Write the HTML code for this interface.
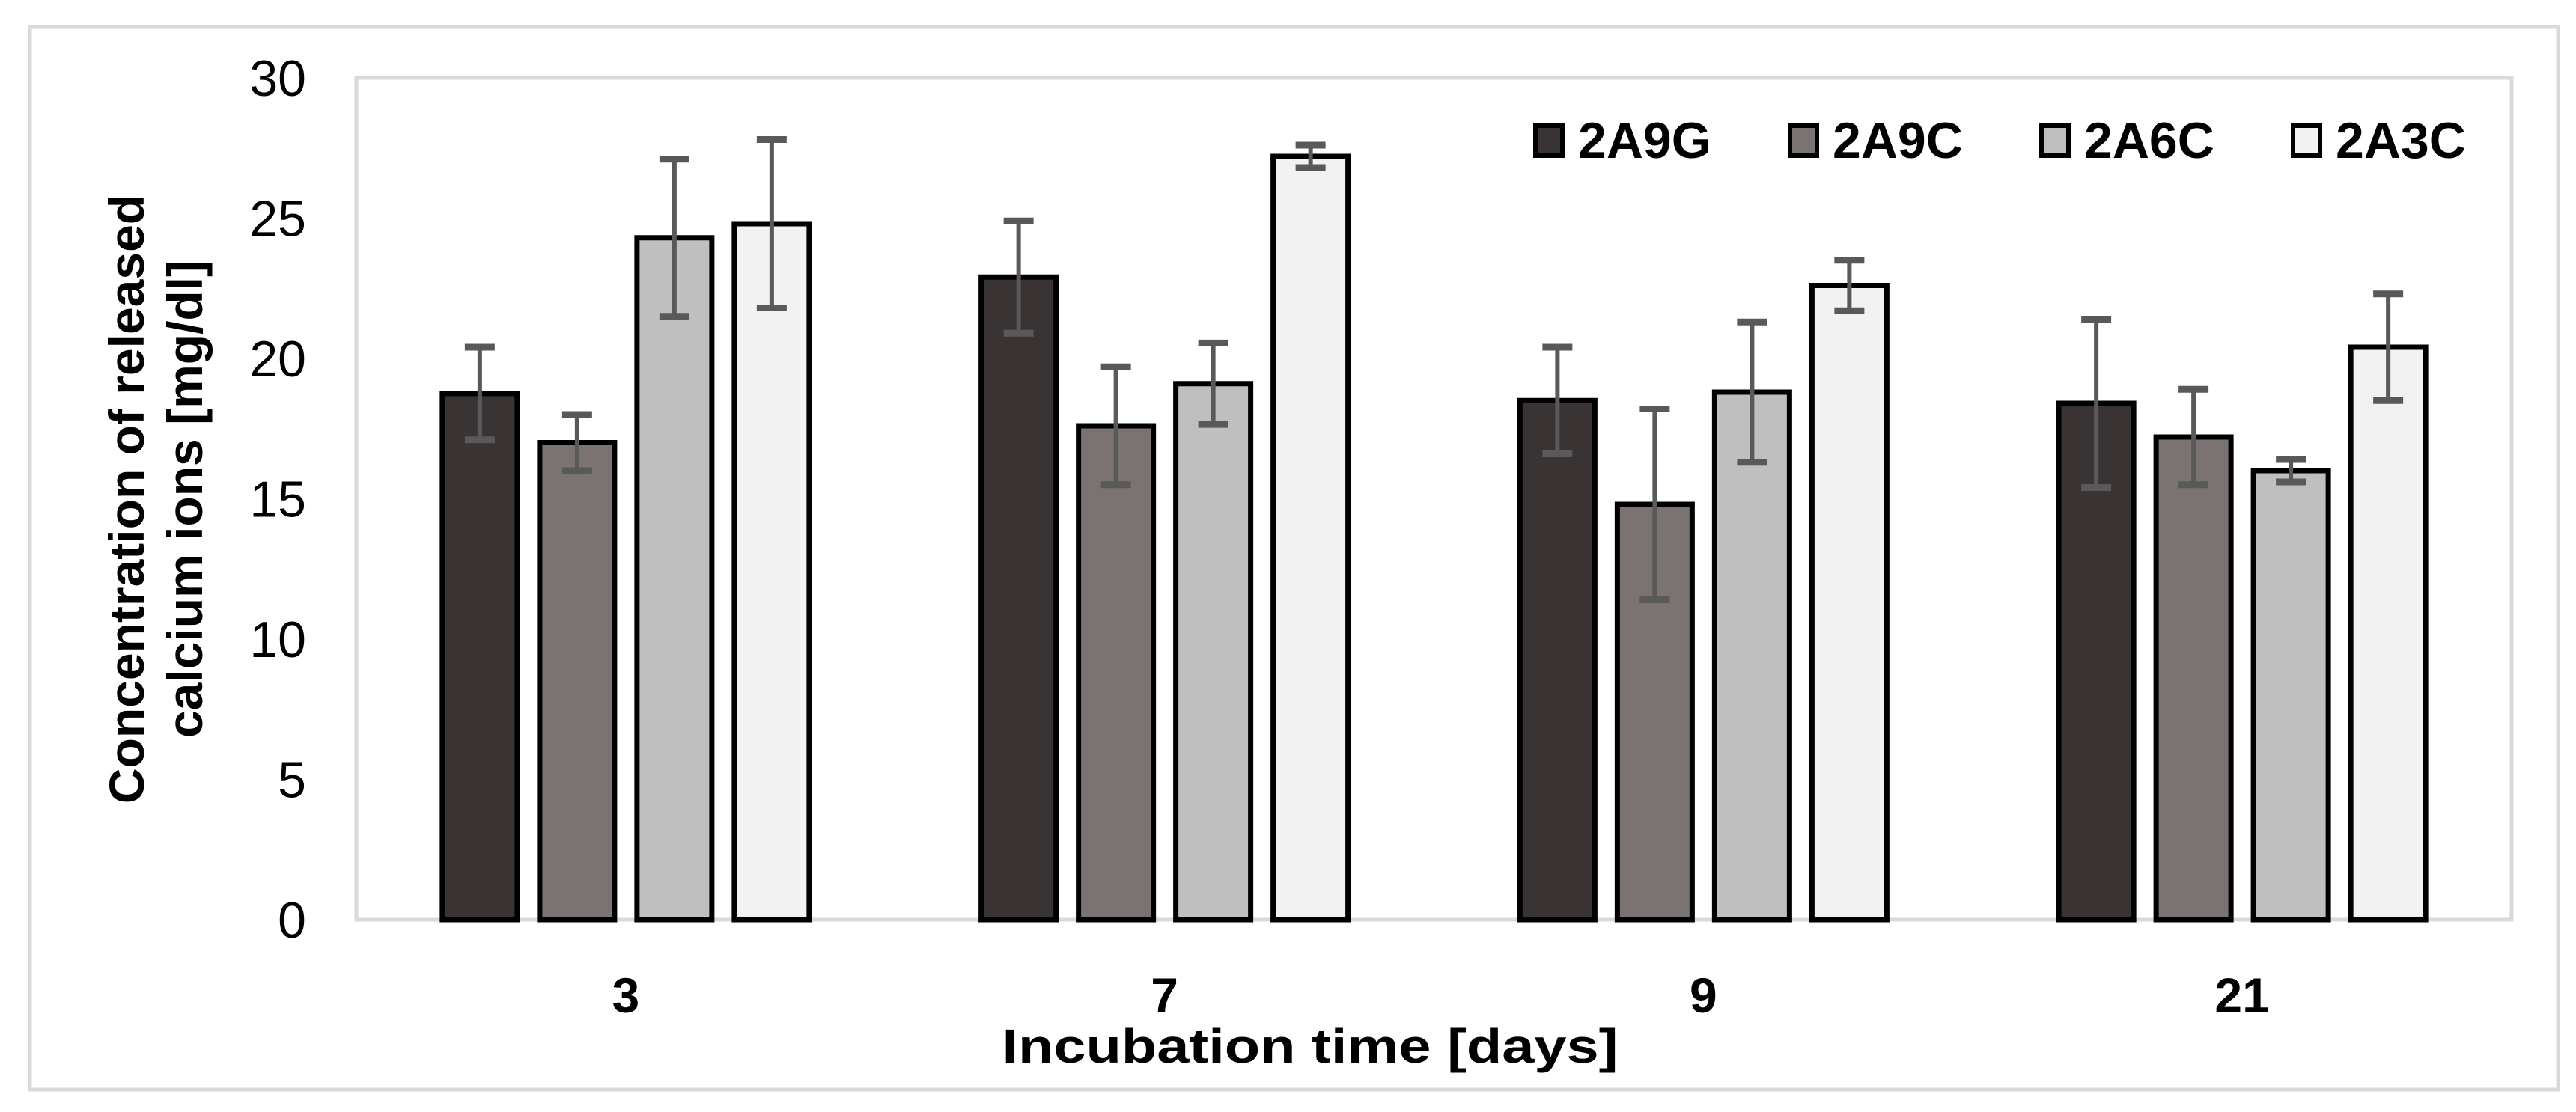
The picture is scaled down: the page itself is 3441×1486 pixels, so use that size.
<!DOCTYPE html>
<html><head><meta charset="utf-8"><style>
html,body{margin:0;padding:0;background:#fff;}
svg{display:block;font-family:"Liberation Sans",Arial,sans-serif;}
</style></head><body>
<svg id="chart" width="3441" height="1486" viewBox="0 0 3441 1486" xmlns="http://www.w3.org/2000/svg">
<rect x="40" y="36" width="3377" height="1420" fill="#fff" stroke="#d9d9d9" stroke-width="5"/>
<rect x="476" y="104" width="2879" height="1125" fill="none" stroke="#d9d9d9" stroke-width="5"/>
<g id="yticks"></g>
<g id="bars"></g>
<g id="xlabels"></g>
<g transform="translate(212,667) rotate(-90)">
<text x="0" y="-20" text-anchor="middle" font-size="66" font-weight="bold">Concentration of released</text>
<text x="0" y="58" text-anchor="middle" font-size="66" font-weight="bold">calcium ions [mg/dl]</text>
</g>
<text x="1750" y="1420" text-anchor="middle" font-size="64" font-weight="bold" textLength="823" lengthAdjust="spacingAndGlyphs">Incubation time [days]</text>
<g id="legend"></g>
</svg>
<script>
const categories = ["3","7","9","21"];
const seriesNames = ["2A9G","2A9C","2A6C","2A3C"];
const s2A9G = [18.75, 22.9, 18.5, 18.4];
const s2A9C = [17.0, 17.6, 14.8, 17.2];
const s2A6C = [24.3, 19.1, 18.8, 16.0];
const s2A3C = [24.8, 27.2, 22.6, 20.4];
const e2A9G = [1.65, 2.0, 1.9, 3.0];
const e2A9C = [1.0, 2.1, 3.4, 1.7];
const e2A6C = [2.8, 1.45, 2.5, 0.4];
const e2A3C = [3.0, 0.4, 0.9, 1.9];
const yTicks = [0,5,10,15,20,25,30];

const NS = "http://www.w3.org/2000/svg";
const colors = ["#393433","#7a7372","#bfbfbf","#f2f2f2"];
const values = [s2A9G,s2A9C,s2A6C,s2A3C];
const errors = [e2A9G,e2A9C,e2A6C,e2A3C];
const plotL = 476, plotR = 3355, y0 = 1229, yTop = 104, yMax = 30;
const yScale = v => y0 - (v / yMax) * (y0 - yTop);
const band = (plotR - plotL) / categories.length;
const xCenter = i => plotL + band * (i + 0.5);
const barW = 106, pitch = 130;
function mk(tag, attrs, parent){const e=document.createElementNS(NS,tag);for(const k in attrs)e.setAttribute(k,attrs[k]);parent.appendChild(e);return e;}

const yt = document.getElementById("yticks");
yTicks.forEach(t=>{
  const e = mk("text",{x:409,y:yScale(t)+24,"text-anchor":"end","font-size":68,fill:"#000"},yt);
  e.textContent = t;
  
  
});

const bg = document.getElementById("bars");
categories.forEach((c,i)=>{
  const cx = xCenter(i);
  values.forEach((ser,j)=>{
    const bx = cx - 2*pitch + 12 + j*pitch;
    const top = yScale(ser[i]);
    const r = mk("rect",{x:bx+3,y:top,width:barW-6,height:y0-top,fill:colors[j],stroke:"#000","stroke-width":7},bg);
    
    
    const mx = bx + barW/2;
    const hi = yScale(ser[i]+errors[j][i]), lo = yScale(ser[i]-errors[j][i]);
    const g = mk("g",{stroke:"#595959","stroke-width":6},bg);
    
    
    mk("line",{x1:mx,x2:mx,y1:hi,y2:lo},g);
    mk("line",{x1:mx-20,x2:mx+20,y1:hi,y2:hi,"stroke-width":9},g);
    mk("line",{x1:mx-20,x2:mx+20,y1:lo,y2:lo,"stroke-width":9},g);
  });
  const t = mk("text",{x:cx,y:1353,"text-anchor":"middle","font-size":66,"font-weight":"bold"},document.getElementById("xlabels"));
  t.textContent = c;
  
  
});

const lg = document.getElementById("legend");
const lx = [2048,2388,2724,3060];
seriesNames.forEach((n,j)=>{
  const g = mk("g",{},lg);
  
  
  mk("rect",{x:lx[j]+3,y:168,width:36,height:40,fill:colors[j],stroke:"#000","stroke-width":6},g);
  const t = mk("text",{x:lx[j]+60,y:211,"font-size":68,"font-weight":"bold"},g);
  t.textContent = n;
});
</script>
</body></html>
